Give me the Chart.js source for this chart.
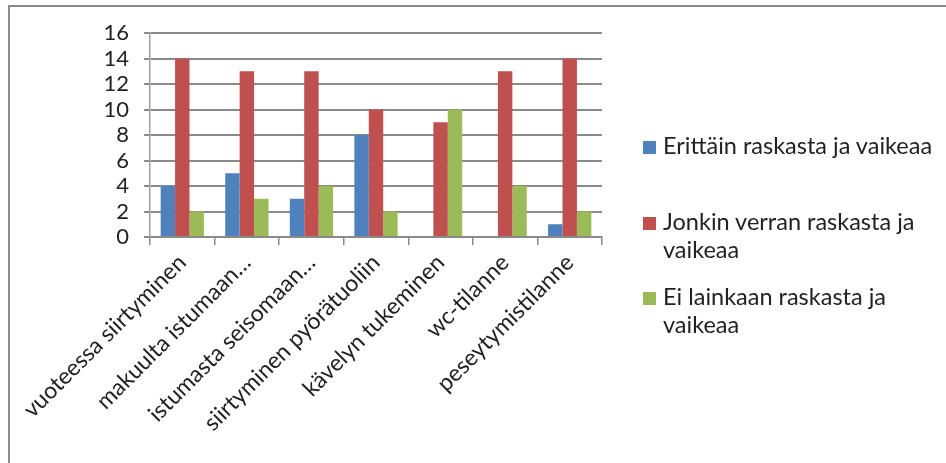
<!DOCTYPE html>
<html>
<head>
<meta charset="utf-8">
<script src="https://cdn.jsdelivr.net/npm/chart.js@4.4.1/dist/chart.umd.min.js"></script>
<style>
  html, body { margin: 0; padding: 0; background: #fff; overflow: hidden; }
  #wrap { position: relative; width: 946px; height: 463px; overflow: hidden; }
  #frame { position: absolute; left: 8px; top: 5px; width: 1000px; height: 1000px;
           border-top: 2px solid #8a8a8a; border-left: 2px solid #8a8a8a; }
  canvas { position: absolute; left: 0; top: 0; }
  .lg { position: absolute; left: 643px; font-family: Lato, sans-serif; font-size: 23.5px;
        line-height: 28px; color: #222; }
  .lg .sw { position: absolute; left: 0; top: 10px; width: 13px; height: 13px; }
  .lg .tx { position: absolute; left: 20px; white-space: nowrap; }
</style>
</head>
<body>
<div id="wrap">
  <div id="frame"></div>
  <canvas id="c" width="946" height="463"></canvas>
  <div id="legend"></div>
</div>
<script>
const categories = [
  "vuoteessa siirtyminen",
  "makuulta istumaan…",
  "istumasta seisomaan…",
  "siirtyminen pyörätuoliin",
  "kävelyn tukeminen",
  "wc-tilanne",
  "peseytymistilanne"
];
const seriesNames = [
  "Erittäin raskasta ja vaikeaa",
  "Jonkin verran raskasta ja vaikeaa",
  "Ei lainkaan raskasta ja vaikeaa"
];
const legendLines = [
  ["Erittäin raskasta ja vaikeaa"],
  ["Jonkin verran raskasta ja", "vaikeaa"],
  ["Ei lainkaan raskasta ja", "vaikeaa"]
];
const erittain = [4, 5, 3, 8, 0, 0, 1];
const jonkin = [14, 13, 13, 10, 9, 13, 14];
const eiLainkaan = [2, 3, 4, 2, 10, 4, 2];
const yTicks = [0, 2, 4, 6, 8, 10, 12, 14, 16];
const colors = ["#4F81BD", "#C0504D", "#9BBB59"];

const seriesValues = [erittain, jonkin, eiLainkaan];

new Chart(document.getElementById("c"), {
  type: "bar",
  data: {
    labels: categories,
    datasets: seriesValues.map((v, i) => ({
      label: seriesNames[i],
      data: v,
      backgroundColor: colors[i],
      borderWidth: 0,
      categoryPercentage: 0.67,
      barPercentage: 1.0
    }))
  },
  options: {
    responsive: false,
    animation: false,
    devicePixelRatio: 1,
    layout: { padding: { top: 33, right: 344, left: 0, bottom: 0 } },
    plugins: { legend: { display: false }, tooltip: { enabled: false } },
    scales: {
      x: {
        grid: { display: true, drawOnChartArea: false, offset: true, tickLength: 8, color: "#8a8a8a", lineWidth: 1.5 },
        border: { color: "#8a8a8a", width: 2 },
        ticks: { minRotation: 45, maxRotation: 45, autoSkip: false, color: "#222", padding: 4,
                 font: { family: "Lato", size: 23 } },
        afterFit: (s) => { s.height = 463 - 237; }
      },
      y: {
        min: 0, max: 16,
        afterBuildTicks: (s) => { s.ticks = yTicks.map(v => ({ value: v })); },
        grid: { color: "#8a8a8a", lineWidth: 2, tickLength: 6 },
        border: { color: "#a0a0a0", width: 1.5 },
        ticks: { autoSkip: false, color: "#222", padding: 15, font: { family: "Lato", size: 22 } },
        afterFit: (s) => { s.width = 150; }
      }
    }
  }
});

const tops = [131, 207, 282];
const lg = document.getElementById("legend");
legendLines.forEach((lines, i) => {
  const d = document.createElement("div");
  d.className = "lg";
  d.style.top = tops[i] + "px";
  const sw = document.createElement("div");
  sw.className = "sw";
  sw.style.background = colors[i];
  d.appendChild(sw);
  lines.forEach((t, j) => {
    const s = document.createElement("div");
    s.className = "tx";
    s.style.top = (j * 28) + "px";
    s.textContent = t;
    d.appendChild(s);
  });
  lg.appendChild(d);
});
</script>
</body>
</html>
